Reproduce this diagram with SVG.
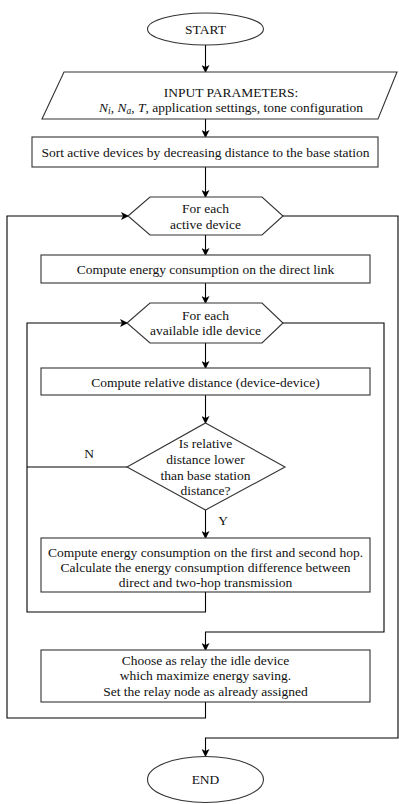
<svg xmlns="http://www.w3.org/2000/svg" width="399" height="804" viewBox="0 0 399 804">
<defs>
<marker id="ah" markerWidth="8" markerHeight="8" refX="7" refY="4" orient="auto" markerUnits="userSpaceOnUse">
<path d="M0,0 L8,4 L0,8 L2,4 Z" fill="#000"/>
</marker>
</defs>
<style>
.s{fill:#fff;stroke:#333;stroke-width:1.1}
.c{fill:none;stroke:#000;stroke-width:1.1}
.a{marker-end:url(#ah)}
text{font-family:"Liberation Serif","Times New Roman",serif;font-size:13.5px;fill:#111;text-anchor:middle}
.i{font-style:italic}
</style>
<rect width="399" height="804" fill="#fff"/>
<g id="connectors">
<path class="c a" d="M205.5,45 V72"/>
<path class="c a" d="M205.5,119 V137"/>
<path class="c a" d="M205.5,167 V197"/>
<path class="c a" d="M205.5,235 V255"/>
<path class="c a" d="M205.5,283 V303"/>
<path class="c a" d="M205.5,343 V368"/>
<path class="c a" d="M205.5,395 V423"/>
<path class="c a" d="M205.5,510 V538"/>
<path class="c a" d="M205.5,592 V612 H27 V323 H127"/>
<path class="c" d="M127,467 H27"/>
<path class="c a" d="M283,323 H384 V632 H205.5 V650"/>
<path class="c a" d="M205.5,702 V718 H7 V216 H128"/>
<path class="c a" d="M283,216 H398 V738 H205.5 V756"/>
<text x="89" y="458">N</text>
<text x="223" y="525">Y</text>
</g>
<g id="start">
<ellipse class="s" cx="205.5" cy="29" rx="58" ry="16"/>
<text x="205.5" y="33.5">START</text>
</g>
<g id="input">
<polygon class="s" points="64,72 397,72 378,119 42,119"/>
<text x="231" y="96.5">INPUT PARAMETERS:</text>
<text x="231" y="111.5"><tspan class="i">N</tspan><tspan class="i" font-size="9.5" dy="2.5">i</tspan><tspan dy="-2.5">, </tspan><tspan class="i">N</tspan><tspan class="i" font-size="9.5" dy="2.5">a</tspan><tspan dy="-2.5">, </tspan><tspan class="i">T</tspan>, application settings, tone configuration</text>
</g>
<g id="sort">
<rect class="s" x="32" y="137" width="346" height="30"/>
<text x="205.5" y="156.5">Sort active devices by decreasing distance to the base station</text>
</g>
<g id="loop-active">
<polygon class="s" points="128,216 150,197 262,197 283,216 262,235 150,235"/>
<text x="205.5" y="212.5">For each</text>
<text x="205.5" y="228.5">active device</text>
</g>
<g id="direct">
<rect class="s" x="41" y="255" width="329" height="28"/>
<text x="205.5" y="274">Compute energy consumption on the direct link</text>
</g>
<g id="loop-idle">
<polygon class="s" points="127,323 150,303 262,303 283,323 262,343 150,343"/>
<text x="205.5" y="319.5">For each</text>
<text x="205.5" y="334.5">available idle device</text>
</g>
<g id="reldist">
<rect class="s" x="41" y="368" width="329" height="27"/>
<text x="205.5" y="386.5">Compute relative distance (device-device)</text>
</g>
<g id="decision">
<polygon class="s" points="205.5,423 285,467 205.5,510 127,467"/>
<text x="205.5" y="447.5">Is relative</text>
<text x="205.5" y="464">distance lower</text>
<text x="205.5" y="479.5">than base station</text>
<text x="205.5" y="494.5">distance?</text>
</g>
<g id="twohop">
<rect class="s" x="41" y="538" width="329" height="54"/>
<text x="205.5" y="556.5">Compute energy consumption on the first and second hop.</text>
<text x="205.5" y="571.5">Calculate the energy consumption difference between</text>
<text x="205.5" y="587">direct and two-hop transmission</text>
</g>
<g id="relay">
<rect class="s" x="41" y="650" width="329" height="52"/>
<text x="205.5" y="664.5">Choose as relay the idle device</text>
<text x="205.5" y="680">which maximize energy saving.</text>
<text x="205.5" y="695.5">Set the relay node as already assigned</text>
</g>
<g id="end">
<ellipse class="s" cx="205.5" cy="779.5" rx="58" ry="23"/>
<text x="205.5" y="784">END</text>
</g>
</svg>
